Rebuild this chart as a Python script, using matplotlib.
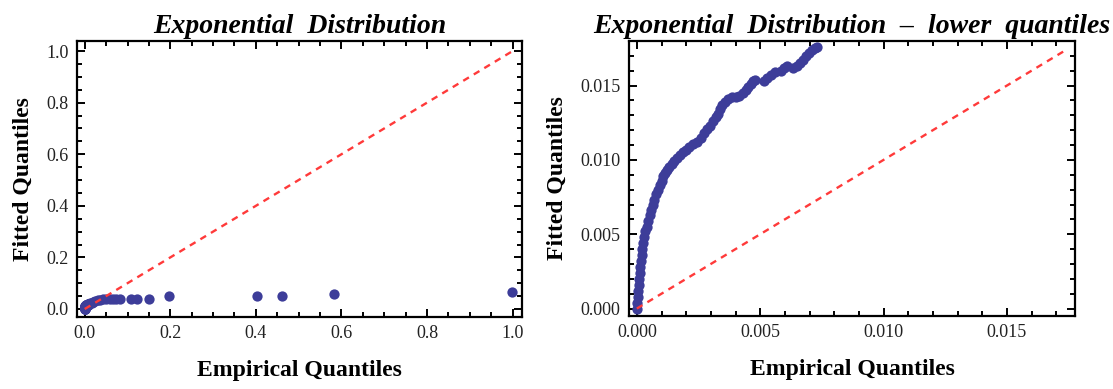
import matplotlib
matplotlib.use("Agg")
import matplotlib.pyplot as plt
from matplotlib.ticker import MultipleLocator, FormatStrFormatter

# Q-Q data: empirical quantiles vs quantiles of the fitted exponential
empirical = [
    0.00000, 0.00002, 0.00004, 0.00005, 0.00007, 0.00009, 0.00011, 0.00013,
    0.00016, 0.00019, 0.00022, 0.00026, 0.00030, 0.00035, 0.00040, 0.00046,
    0.00052, 0.00058, 0.00064, 0.00071, 0.00078, 0.00085, 0.00093, 0.00100,
    0.00107, 0.00114, 0.00122, 0.00132, 0.00142, 0.00152, 0.00163, 0.00175,
    0.00188, 0.00200, 0.00213, 0.00228, 0.00245, 0.00260, 0.00272, 0.00284,
    0.00296, 0.00308, 0.00320, 0.00330, 0.00338, 0.00346, 0.00356, 0.00370,
    0.00385, 0.00400, 0.00415, 0.00430, 0.00442, 0.00452, 0.00462, 0.00472,
    0.00478, 0.00515, 0.00528, 0.00545, 0.00560, 0.00585, 0.00598, 0.00608,
    0.00635, 0.00650, 0.00662, 0.00674, 0.00686, 0.00698, 0.00710, 0.00722,
    0.00730,
    0.0085, 0.0100, 0.0130, 0.0160, 0.0200, 0.0250, 0.0300, 0.0360,
    0.0420, 0.0500, 0.0580, 0.0660, 0.0740, 0.0830,
    0.107, 0.122, 0.151, 0.197, 0.403, 0.462, 0.583, 0.998,
]
fitted = [
    0.0000, 0.0004, 0.0008, 0.0012, 0.0016, 0.0020, 0.0024, 0.0028,
    0.0032, 0.0036, 0.0040, 0.0044, 0.0048, 0.0052, 0.0055, 0.0059,
    0.0063, 0.0066, 0.0070, 0.0073, 0.0077, 0.0080, 0.0083, 0.0086,
    0.0089, 0.0091, 0.0093, 0.0095, 0.0097, 0.0099, 0.0101, 0.0103,
    0.0105, 0.0107, 0.0109, 0.0111, 0.0112, 0.0115, 0.0118, 0.0121,
    0.0123, 0.0126, 0.0129, 0.0131, 0.0134, 0.0137, 0.0139, 0.0141,
    0.0142, 0.0142, 0.0143, 0.0145, 0.0147, 0.0149, 0.0151, 0.0153,
    0.0154, 0.0153, 0.0155, 0.0157, 0.0159, 0.0160, 0.0162, 0.0163,
    0.0162, 0.0163, 0.0165, 0.0167, 0.0170, 0.0172, 0.0174, 0.0175,
    0.0176,
    0.0190, 0.0200, 0.0220, 0.0250, 0.0280, 0.0310, 0.0330, 0.0350,
    0.0370, 0.0380, 0.0390, 0.0390, 0.0400, 0.0400,
    0.040, 0.040, 0.040, 0.049, 0.049, 0.049, 0.058, 0.066,
]

# reference line y = x over each plot range
full_ref = [0.0, 1.0]
lower_ref = [0.0, 0.0174]

dot_color = "#3d3d99"
serif = "Liberation Serif"

fig = plt.figure(figsize=(11.13, 3.89), dpi=100)
ax1 = fig.add_axes([0.0692, 0.1851, 0.3998, 0.7095])
ax2 = fig.add_axes([0.5651, 0.1877, 0.4007, 0.7069])


def style_axes(ax, major, minor, fmt):
    for s in ax.spines.values():
        s.set_linewidth(1.6)
    ax.xaxis.set_major_locator(MultipleLocator(major))
    ax.xaxis.set_minor_locator(MultipleLocator(minor))
    ax.yaxis.set_major_locator(MultipleLocator(major))
    ax.yaxis.set_minor_locator(MultipleLocator(minor))
    ax.xaxis.set_major_formatter(FormatStrFormatter(fmt))
    ax.yaxis.set_major_formatter(FormatStrFormatter(fmt))
    ax.tick_params(which="both", direction="in", top=True, right=True,
                   width=1.4, pad=6, labelsize=13, labelcolor="#222222")
    ax.tick_params(which="major", length=6)
    ax.tick_params(which="minor", length=3.5)
    for lab in ax.get_xticklabels() + ax.get_yticklabels():
        lab.set_fontfamily(serif)
    ax.set_xlabel("Empirical Quantiles", fontfamily=serif, fontweight="bold",
                  fontsize=17, labelpad=13)
    ax.set_ylabel("Fitted Quantiles", fontfamily=serif, fontweight="bold",
                  fontsize=17, labelpad=9)


for ax, ref in ((ax1, full_ref), (ax2, lower_ref)):
    ax.plot(empirical, fitted, "o", color=dot_color, markersize=7.4,
            markeredgewidth=0, zorder=2)
    ax.plot(ref, ref, color="#ff3a3a", linestyle=(0, (2.8, 2.4)),
            linewidth=1.7, zorder=3)

ax1.set_xlim(-0.018, 1.022)
ax1.set_ylim(-0.031, 1.039)
style_axes(ax1, 0.2, 0.05, "%.1f")
ax1.set_title("Exponential  Distribution", fontfamily=serif,
              fontweight="bold", fontstyle="italic", fontsize=20, pad=6)

ax2.set_xlim(-0.00032, 0.01776)
ax2.set_ylim(-0.0005, 0.0180)
style_axes(ax2, 0.005, 0.001, "%.3f")
ax2.set_title("Exponential  Distribution  \u2013  lower  quantiles",
              fontfamily=serif, fontweight="bold", fontstyle="italic",
              fontsize=20, pad=6)

fig.savefig("out.png", dpi=100)
